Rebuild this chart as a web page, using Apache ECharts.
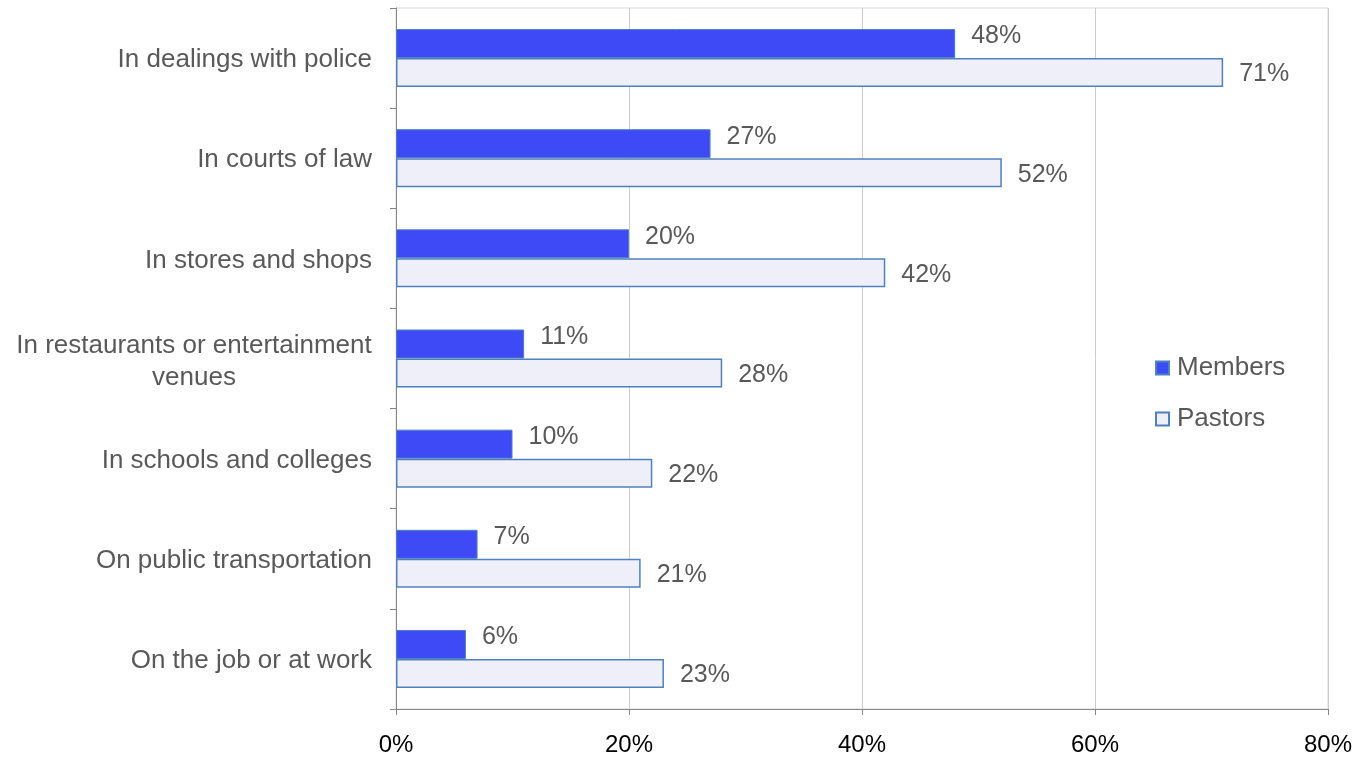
<!DOCTYPE html>
<html>
<head>
<meta charset="utf-8">
<title>Where discrimination is seen</title>
<script src="https://cdn.jsdelivr.net/npm/echarts@6/dist/echarts.min.js"></script>
<style>
  html, body { margin: 0; padding: 0; background: #ffffff; }
  #chart { width: 1372px; height: 757px; }
</style>
</head>
<body>
<div id="chart"></div>
<script>
// Settings, top to bottom
const categories = [
  'In dealings with police',
  'In courts of law',
  'In stores and shops',
  'In restaurants or entertainment\nvenues',
  'In schools and colleges',
  'On public transportation',
  'On the job or at work'
];
// Percent of respondents
const membersValues = [48, 27, 20, 11, 10, 7, 6];
const pastorsValues = [71, 52, 42, 28, 22, 21, 23];
// Value axis ticks
const xTicks = [0, 20, 40, 60, 80];

const FONT = '"Liberation Sans", Arial, sans-serif';
const GREY_TEXT = '#595959';
const AXIS_GREY = '#868686';

const chart = echarts.init(document.getElementById('chart'), null, { renderer: 'canvas' });

chart.setOption({
  animation: false,
  textStyle: { fontFamily: FONT },
  grid: {
    left: 396, right: 44, top: 8, bottom: 46,
    show: true, borderColor: '#d9d9d9', borderWidth: 1,
    backgroundColor: 'transparent'
  },
  legend: {
    orient: 'vertical',
    left: 1155,
    top: 355,
    padding: 0,
    itemWidth: 13,
    itemHeight: 13,
    itemGap: 25,
    icon: 'rect',
    textStyle: { fontFamily: FONT, fontSize: 26, color: GREY_TEXT, lineHeight: 26, padding: [0, 0, 0, 3] },
    data: ['Members', 'Pastors']
  },
  xAxis: {
    type: 'value',
    min: xTicks[0],
    max: xTicks[xTicks.length - 1],
    interval: xTicks[1] - xTicks[0],
    axisLine: { show: true, lineStyle: { color: AXIS_GREY, width: 1 } },
    axisTick: { show: true, length: 6, lineStyle: { color: AXIS_GREY } },
    splitLine: { show: true, lineStyle: { color: '#cccccc', width: 1 } },
    axisLabel: {
      formatter: v => v + '%',
      color: '#000000',
      fontFamily: FONT,
      fontSize: 24,
      margin: 24
    }
  },
  yAxis: {
    type: 'category',
    inverse: true,
    data: categories,
    axisLine: { show: true, lineStyle: { color: AXIS_GREY, width: 1 } },
    axisTick: { show: true, length: 6, alignWithLabel: false, lineStyle: { color: AXIS_GREY } },
    splitLine: { show: false },
    axisLabel: {
      color: GREY_TEXT,
      fontFamily: FONT,
      fontSize: 26,
      lineHeight: 32,
      margin: 24,
      padding: [4, 0, 0, 0],
      formatter: function (v) {
        if (v.indexOf('\n') >= 0) {
          return v.split('\n').map(s => '{c|' + s + '}').join('\n');
        }
        return v;
      },
      rich: {
        c: { width: 356, align: 'center', fontFamily: FONT, fontSize: 26, lineHeight: 32, color: GREY_TEXT, padding: [2, 0, 0, 0] }
      }
    }
  },
  series: [
    {
      name: 'Members',
      type: 'bar',
      data: membersValues,
      barWidth: 29,
      barGap: '0%',
      itemStyle: { color: '#3D4AF6', borderColor: '#4F81BD', borderWidth: 1 },
      label: {
        show: true,
        position: 'right',
        distance: 16,
        offset: [0, -7],
        formatter: '{c}%',
        color: GREY_TEXT,
        fontFamily: FONT,
        fontSize: 25
      }
    },
    {
      name: 'Pastors',
      type: 'bar',
      data: pastorsValues,
      barWidth: 29,
      barGap: '0%',
      itemStyle: { color: '#EFEFFA', borderColor: '#4F81BD', borderWidth: 1.5 },
      label: {
        show: true,
        position: 'right',
        distance: 16,
        offset: [0, 2],
        formatter: '{c}%',
        color: GREY_TEXT,
        fontFamily: FONT,
        fontSize: 25
      }
    }
  ]
});
</script>
</body>
</html>
